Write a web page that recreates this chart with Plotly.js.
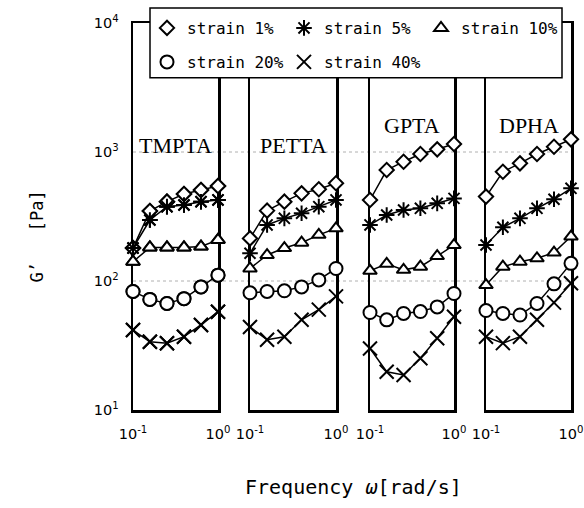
<!DOCTYPE html>
<html>
<head>
<meta charset="utf-8">
<script src="https://cdn.plot.ly/plotly-3.0.1.min.js"></script>
<style>html,body{margin:0;padding:0;background:#fff}</style>
</head>
<body>
<div id="chart" style="width:584px;height:508px"></div>
<script>
// ---- data ----
const freq = [0.1, 0.158, 0.251, 0.398, 0.631, 1.0];
const panelNames = ['TMPTA', 'PETTA', 'GPTA', 'DPHA'];
const seriesNames = ['strain 1%', 'strain 5%', 'strain 10%', 'strain 20%', 'strain 40%'];

const tmpta_s1  = [180, 349, 412, 472, 507, 545];
const tmpta_s5  = [180, 297, 377, 388, 412, 425];
const tmpta_s10 = [141, 182, 182, 182, 185, 208];
const tmpta_s20 = [83, 72, 67, 73, 90, 111];
const tmpta_s40 = [41.7, 33.8, 32.9, 37.0, 45.6, 57.8];

const petta_s1  = [214, 351, 412, 478, 514, 572];
const petta_s5  = [164, 272, 306, 335, 377, 425];
const petta_s10 = [125, 159, 180, 198, 228, 256];
const petta_s20 = [81, 83, 84, 90, 102, 125];
const petta_s40 = [44, 35, 37, 50, 60, 76];

const gpta_s1  = [425, 725, 841, 964, 1049, 1153];
const gpta_s5  = [272, 325, 355, 366, 400, 437];
const gpta_s10 = [120, 136, 122, 129, 156, 190];
const gpta_s20 = [57, 50, 56, 58, 63, 80];
const gpta_s40 = [30, 19.8, 18.7, 25.2, 36, 52.8];

const dpha_s1  = [451, 703, 817, 964, 1099, 1254];
const dpha_s5  = [190, 261, 306, 366, 430, 523];
const dpha_s10 = [93, 129, 141, 150, 166, 221];
const dpha_s20 = [59, 56, 54.5, 67, 95, 137];
const dpha_s40 = [37, 33, 37, 50, 68, 96];

const xTickVals = [0.1, 1];
const xTickText = ['10<sup>-1</sup>', '10<sup>0</sup>'];
const yTickVals = [10, 100, 1000, 10000];
const yTickText = ['10<sup>1</sup>', '10<sup>2</sup>', '10<sup>3</sup>', '10<sup>4</sup>'];

// ---- build ----
const panelData = [
  [tmpta_s1, tmpta_s5, tmpta_s10, tmpta_s20, tmpta_s40],
  [petta_s1, petta_s5, petta_s10, petta_s20, petta_s40],
  [gpta_s1, gpta_s5, gpta_s10, gpta_s20, gpta_s40],
  [dpha_s1, dpha_s5, dpha_s10, dpha_s20, dpha_s40]
];

const symbols = ['diamond', 'asterisk-open', 'triangle-up', 'circle', 'x-thin-open'];
const sizes = [11, 13, 12, 13, 14];
const fills = ['white', 'black', 'white', 'white', 'black'];

function markerFor(s) {
  return { symbol: symbols[s], size: sizes[s], color: fills[s], line: { color: 'black', width: 2 } };
}

const traces = [];
// legend-only entries (markers of panel 1)
for (let s = 0; s < 5; s++) {
  traces.push({
    x: freq, y: panelData[0][s], xaxis: 'x', yaxis: 'y',
    mode: 'markers', name: seriesNames[s], marker: markerFor(s),
    cliponaxis: false, showlegend: true, legend: s < 3 ? 'legend' : 'legend2',
    hoverinfo: 'skip'
  });
}
for (let p = 0; p < 4; p++) {
  const suf = p === 0 ? '' : String(p + 1);
  for (let s = 0; s < 5; s++) {
    traces.push({
      x: freq, y: panelData[p][s], xaxis: 'x' + suf, yaxis: 'y' + suf,
      mode: 'lines+markers', name: seriesNames[s],
      line: { color: 'black', width: 1.5 },
      marker: markerFor(s), cliponaxis: false, showlegend: false
    });
  }
}

// plot area: x 133..571, y 22..410
const W = 438, H = 388, L = 133, T = 22;
const px = v => (v - L) / W;
const py = v => (T + H - v) / H;
const domains = [[133, 218], [250, 336], [370, 454], [486, 571]];

const legendCommon = {
  xanchor: 'left', yanchor: 'middle',
  orientation: 'h', entrywidth: 92, entrywidthmode: 'pixels',
  bgcolor: 'rgba(0,0,0,0)', borderwidth: 0, traceorder: 'normal',
  font: { family: 'DejaVu Sans Mono', size: 16, color: 'black' }
};

const layout = {
  width: 584, height: 508,
  margin: { l: L, r: 584 - L - W, t: T, b: 508 - T - H },
  paper_bgcolor: 'white', plot_bgcolor: 'white',
  showlegend: true,
  font: { family: 'DejaVu Sans', color: 'black', size: 15 },
  shapes: [
    { type: 'line', xref: 'paper', yref: 'y', x0: 0, x1: 1, y0: 100, y1: 100,
      line: { color: '#b0b0b0', width: 1, dash: 'dot' }, layer: 'below' },
    { type: 'line', xref: 'paper', yref: 'y', x0: 0, x1: 1, y0: 1000, y1: 1000,
      line: { color: '#b0b0b0', width: 1, dash: 'dot' }, layer: 'below' },
    { type: 'rect', xref: 'paper', yref: 'paper', x0: px(150), x1: px(562), y0: py(77), y1: py(7),
      fillcolor: 'white', line: { color: 'black', width: 1.5 }, layer: 'above' }
  ],
  legend: Object.assign({}, legendCommon, { x: px(147), y: py(28) }),
  legend2: Object.assign({}, legendCommon, { x: px(147), y: py(62) }),
  annotations: [
    { xref: 'paper', yref: 'paper', x: px(353), y: py(487), xanchor: 'center', yanchor: 'middle',
      text: 'Frequency <i>ω</i>[rad/s]', showarrow: false,
      font: { family: 'DejaVu Sans Mono', size: 20, color: 'black' } },
    { xref: 'paper', yref: 'paper', x: px(37), y: py(236), xanchor: 'center', yanchor: 'middle',
      text: 'G’\u00a0\u00a0\u00a0[Pa]', textangle: -90, showarrow: false,
      font: { family: 'DejaVu Sans Mono', size: 17, color: 'black' } }
  ]
};

const labelY = [145, 145, 125, 125];
for (let p = 0; p < 4; p++) {
  const suf = p === 0 ? '' : String(p + 1);
  layout['xaxis' + suf] = {
    type: 'log', range: [-1, 0], domain: [px(domains[p][0]), px(domains[p][1])],
    anchor: 'y' + suf, showline: true, mirror: true, linewidth: 2.5, linecolor: 'black',
    showgrid: false, zeroline: false, ticks: '', tickvals: xTickVals, ticktext: xTickText,
    tickfont: { family: 'DejaVu Sans', size: 14.5, color: 'black' }, ticklabelstandoff: 9,
    ticklabeloverflow: 'allow', layer: 'below traces', fixedrange: true
  };
  layout['yaxis' + suf] = {
    type: 'log', range: [1, 4], domain: [0, 1], anchor: 'x' + suf,
    showline: true, mirror: true, linewidth: 2.5, linecolor: 'black',
    showgrid: false, zeroline: false, ticks: '', tickvals: yTickVals, ticktext: yTickText,
    showticklabels: p === 0, ticklabelstandoff: 9,
    tickfont: { family: 'DejaVu Sans', size: 14.5, color: 'black' },
    layer: 'below traces', fixedrange: true
  };
  layout.annotations.push({
    xref: 'x' + suf + ' domain', yref: 'paper', x: 0.5, y: py(labelY[p]),
    xanchor: 'center', yanchor: 'middle', text: panelNames[p], showarrow: false,
    font: { family: 'Liberation Serif', size: 22, color: 'black' }
  });
}

Plotly.newPlot('chart', traces, layout, { displayModeBar: false, staticPlot: true });
</script>
</body>
</html>
